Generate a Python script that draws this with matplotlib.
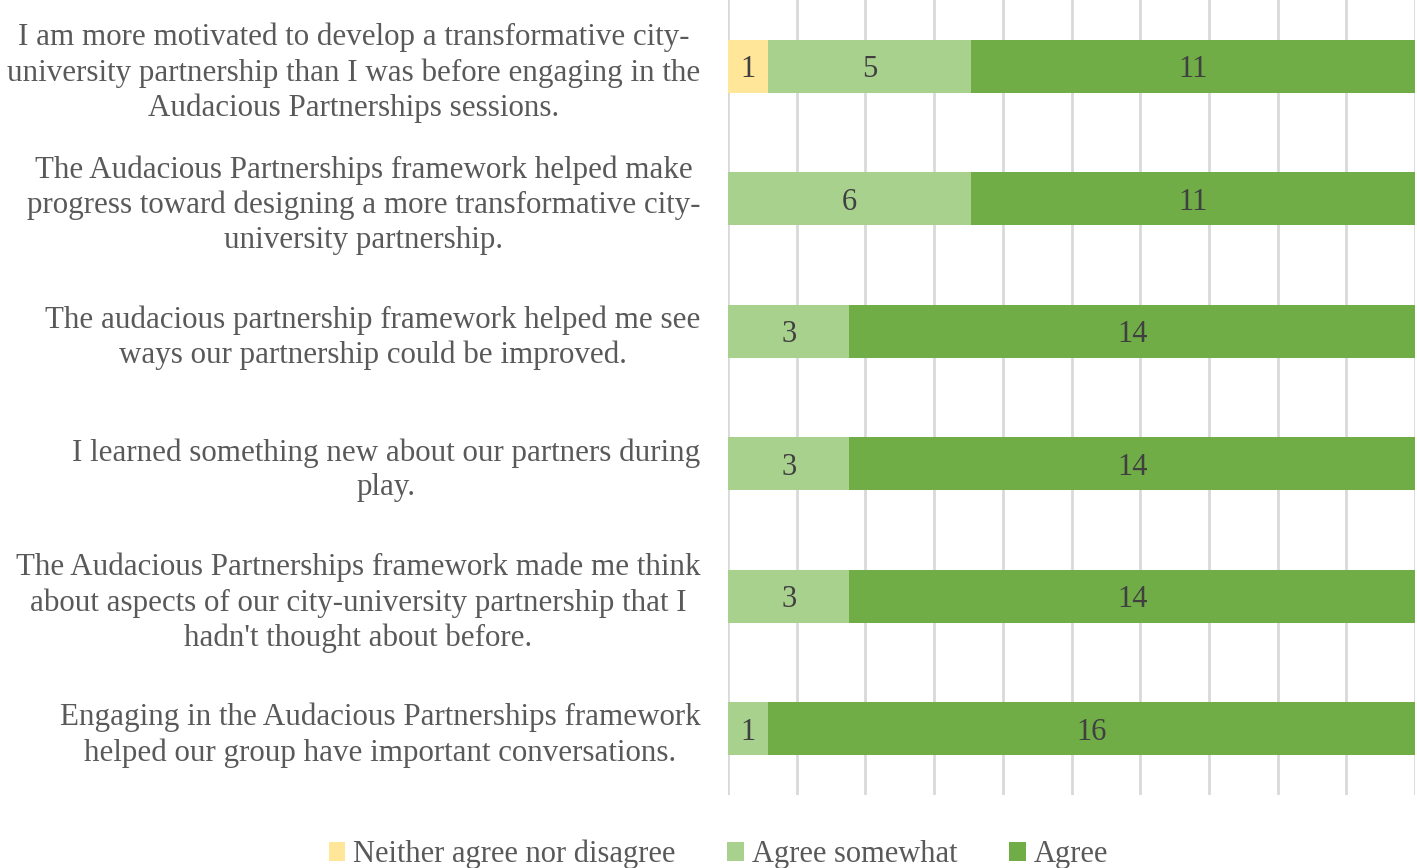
import numpy as np
import matplotlib.pyplot as plt

plt.rcParams['font.family'] = ['Liberation Serif', 'DejaVu Serif']

statements = [
    "I am more motivated to develop a transformative city-\nuniversity partnership than I was before engaging in the\nAudacious Partnerships sessions.",
    "The Audacious Partnerships framework helped make\nprogress toward designing a more transformative city-\nuniversity partnership.",
    "The audacious partnership framework helped me see\nways our partnership could be improved.",
    "I learned something new about our partners during\nplay.",
    "The Audacious Partnerships framework made me think\nabout aspects of our city-university partnership that I\nhadn't thought about before.",
    "Engaging in the Audacious Partnerships framework\nhelped our group have important conversations.",
]
series = ["Neither agree nor disagree", "Agree somewhat", "Agree"]
neither = [1, 0, 0, 0, 0, 0]
somewhat = [5, 6, 3, 3, 3, 1]
agree = [11, 11, 14, 14, 14, 16]
colors = ["#FFE699", "#A9D18E", "#70AD47"]

counts = np.array([neither, somewhat, agree], dtype=float)
totals = counts.sum(axis=0)
pct = counts / totals * 100

fig = plt.figure(figsize=(14.17, 8.68), dpi=100)
ax = fig.add_axes([0.5138, 0.0841, 0.4848, 0.9159])

y = np.arange(len(statements))
left = np.zeros(len(statements))
for i, name in enumerate(series):
    ax.barh(y, pct[i], left=left, height=0.4, color=colors[i], label=name, zorder=2)
    for j in range(len(statements)):
        if counts[i, j] > 0:
            ax.text(left[j] + pct[i, j] / 2, y[j], f"{int(counts[i, j])}",
                    ha='center', va='center_baseline', fontsize=22, color='#404040', zorder=3)
    left += pct[i]

ax.set_xlim(0, 100)
ax.set_ylim(-0.5, len(statements) - 0.5)
ax.invert_yaxis()
ax.set_xticks(np.arange(0, 101, 10))
ax.set_xticklabels([])
ax.grid(axis='x', color='#d9d9d9', linewidth=2, zorder=0)
ax.tick_params(axis='both', length=0)
ax.tick_params(axis='y', pad=20)
ax.set_yticks(y)
ax.set_yticklabels(statements, fontsize=22.3, color='#595959', linespacing=1.27)
for lbl in ax.get_yticklabels():
    lbl.set_multialignment('center')
for s in ax.spines.values():
    s.set_visible(False)

fig.legend(loc='lower center', bbox_to_anchor=(0.507, -0.033), ncol=3, frameon=False,
           fontsize=22, labelcolor='#595959', handlelength=0.55, handleheight=0.55,
           handletextpad=0.25, columnspacing=1.7)

fig.savefig("out.png", dpi=100)
